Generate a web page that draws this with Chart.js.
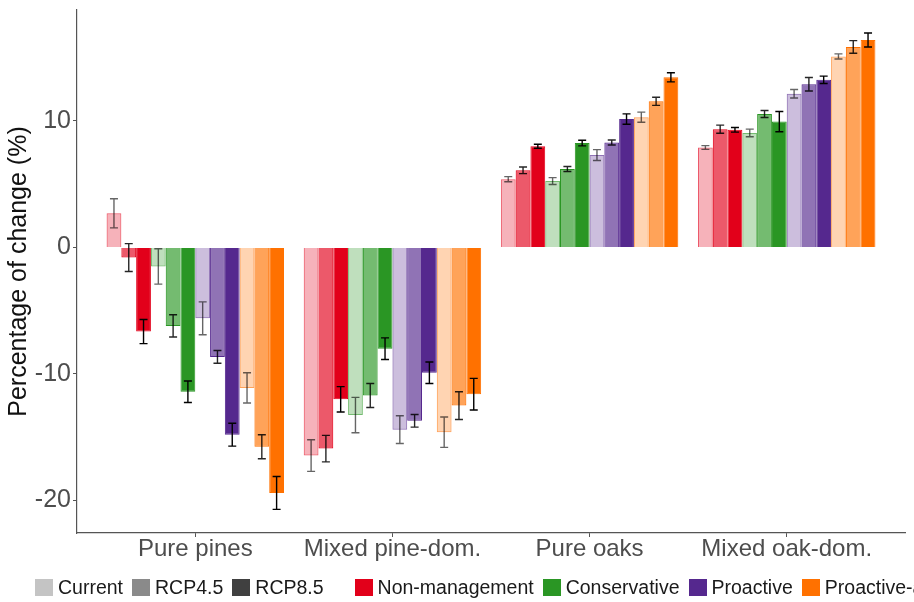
<!DOCTYPE html>
<html lang="en">
<head>
  <meta charset="UTF-8" />
  <script src="https://cdn.jsdelivr.net/npm/chart.js"></script>
  <style>
    body { margin: 0; background: #fff; overflow: hidden; }
    #wrap { position: relative; width: 914px; height: 602px; overflow: hidden; }
    #legend {
      position: absolute; left: 35px; top: 576px;
      display: flex; align-items: center; white-space: nowrap;
      font-family: 'Liberation Sans', Arial, sans-serif; font-size: 19.5px; color: #1a1a1a;
    }
    #legend .item { display: flex; align-items: center; margin-right: 9px; }
    #legend .sw { width: 18px; height: 17px; margin-right: 5px; display: inline-block; }
    #legend .gap { width: 22px; }
  </style>
</head>
<body>
  <div id="wrap">
    <canvas id="chart" width="914" height="602"></canvas>
    <div id="legend"></div>
  </div>

  <script>
    const groups = ['Pure pines', 'Mixed pine-dom.', 'Pure oaks', 'Mixed oak-dom.'];
    const climates = ['Current', 'RCP4.5', 'RCP8.5'];
    const managements = ['Non-management', 'Conservative', 'Proactive', 'Proactive-adaptive'];
    const yTicks = [-20, -10, 0, 10];

    // rows: Current, RCP4.5, RCP8.5 ; columns follow groups
    const nonManagement = [
      [2.7, -16.45, 5.4, 7.9],
      [-0.8, -15.9, 6.1, 9.35],
      [-6.65, -12.0, 8.0, 9.3],
    ];
    const nonManagementErr = [
      [1.15, 1.25, 0.2, 0.15],
      [1.1, 1.05, 0.26, 0.32],
      [0.95, 1.0, 0.16, 0.18],
    ];
    const conservative = [
      [-1.5, -13.25, 5.25, 9.05],
      [-6.2, -11.7, 6.2, 10.55],
      [-11.4, -8.0, 8.25, 9.95],
    ];
    const conservativeErr = [
      [1.4, 1.4, 0.27, 0.3],
      [0.88, 0.95, 0.2, 0.28],
      [0.85, 0.85, 0.22, 0.8],
    ];
    const proactive = [
      [-5.6, -14.4, 7.3, 12.15],
      [-8.65, -13.7, 8.3, 12.9],
      [-14.8, -9.9, 10.15, 13.25],
    ];
    const proactiveErr = [
      [1.3, 1.1, 0.43, 0.34],
      [0.5, 0.5, 0.2, 0.53],
      [0.9, 0.85, 0.41, 0.29],
    ];
    const proactiveAdaptive = [
      [-11.1, -14.6, 10.3, 15.1],
      [-15.75, -12.5, 11.55, 15.85],
      [-19.4, -11.6, 13.45, 16.4],
    ];
    const proactiveAdaptiveErr = [
      [1.2, 1.2, 0.4, 0.2],
      [0.95, 1.1, 0.32, 0.5],
      [1.3, 1.25, 0.36, 0.55],
    ];

    const mgmtColors = ['226,0,26', '42,150,36', '85,40,142', '255,113,0'];
    const climateAlpha = [0.3, 0.65, 1];
    const climateGrey = ['#c4c4c4', '#8a8a8a', '#404040'];
    const errAlpha = [0.6, 0.85, 1];

    const values = [nonManagement, conservative, proactive, proactiveAdaptive];
    const errors = [nonManagementErr, conservativeErr, proactiveErr, proactiveAdaptiveErr];

    const datasets = [];
    managements.forEach((m, mi) => {
      climates.forEach((c, ci) => {
        datasets.push({
          label: m + ' ' + c,
          data: values[mi][ci].map((v, gi) => ({ x: gi + 1, y: v })),
          errors: errors[mi][ci],
          errAlpha: errAlpha[ci],
          backgroundColor: `rgba(${mgmtColors[mi]},${climateAlpha[ci]})`,
          borderColor: `rgba(${mgmtColors[mi]},${Math.min(1, climateAlpha[ci] + 0.35)})`,
          borderWidth: 1,
          categoryPercentage: 0.9,
          barPercentage: 1.0,
        });
      });
    });

    const errorBars = {
      id: 'errorBars',
      afterDatasetsDraw(chart) {
        const ctx = chart.ctx;
        const y = chart.scales.y;
        chart.data.datasets.forEach((ds, i) => {
          const meta = chart.getDatasetMeta(i);
          meta.data.forEach((bar, j) => {
            const v = ds.data[j].y, e = ds.errors[j];
            const top = y.getPixelForValue(v + e);
            const bot = y.getPixelForValue(v - e);
            const half = 4;
            ctx.save();
            ctx.strokeStyle = `rgba(0,0,0,${ds.errAlpha})`;
            ctx.lineWidth = 1.4;
            ctx.beginPath();
            ctx.moveTo(bar.x, top); ctx.lineTo(bar.x, bot);
            ctx.moveTo(bar.x - half, top); ctx.lineTo(bar.x + half, top);
            ctx.moveTo(bar.x - half, bot); ctx.lineTo(bar.x + half, bot);
            ctx.stroke();
            ctx.restore();
          });
        });
      }
    };

    const font = "'Liberation Sans', Arial, sans-serif";

    new Chart(document.getElementById('chart'), {
      type: 'bar',
      data: { datasets },
      options: {
        responsive: false,
        animation: false,
        layout: { padding: { top: 10, right: 9, left: 0, bottom: 0 } },
        plugins: { legend: { display: false }, tooltip: { enabled: false } },
        scales: {
          x: {
            type: 'linear',
            min: 0.4,
            max: 4.6,
            offset: false,
            afterBuildTicks: s => { s.ticks = groups.map((g, i) => ({ value: i + 1 })); },
            afterFit: s => { s.height = 69; s.paddingLeft = 0; s.paddingRight = 0; },
            ticks: {
              callback: v => groups[v - 1],
              autoSkip: false,
              maxRotation: 0,
              padding: 0,
              color: '#4d4d4d',
              font: { family: font, size: 24, lineHeight: 1 },
            },
            grid: { drawOnChartArea: false, offset: false, tickLength: 4, color: '#555' },
            border: { color: '#555', width: 1.2 },
          },
          y: {
            min: -22.57,
            max: 18.77,
            afterBuildTicks: s => { s.ticks = yTicks.map(v => ({ value: v })); },
            afterFit: s => { s.width = 77; s.paddingTop = 0; s.paddingBottom = 0; },
            ticks: {
              padding: 2,
              color: '#4d4d4d',
              font: { family: font, size: 25, lineHeight: 1 },
            },
            grid: { drawOnChartArea: false, tickLength: 4, color: '#555' },
            border: { color: '#555', width: 1.2 },
            title: {
              display: true,
              text: 'Percentage of change (%)',
              color: '#111',
              font: { family: font, size: 25, lineHeight: 1 },
              padding: { top: 7, bottom: 0 },
            },
          },
        },
      },
      plugins: [errorBars],
    });

    // legend: climate shades, then management colours
    const legend = document.getElementById('legend');
    climates.forEach((c, ci) => {
      legend.insertAdjacentHTML('beforeend',
        `<span class="item"><span class="sw" style="background:${climateGrey[ci]}"></span>${c}</span>`);
    });
    legend.insertAdjacentHTML('beforeend', '<span class="gap"></span>');
    managements.forEach((m, mi) => {
      legend.insertAdjacentHTML('beforeend',
        `<span class="item"><span class="sw" style="background:rgb(${mgmtColors[mi]})"></span>${m}</span>`);
    });
  </script>
</body>
</html>
